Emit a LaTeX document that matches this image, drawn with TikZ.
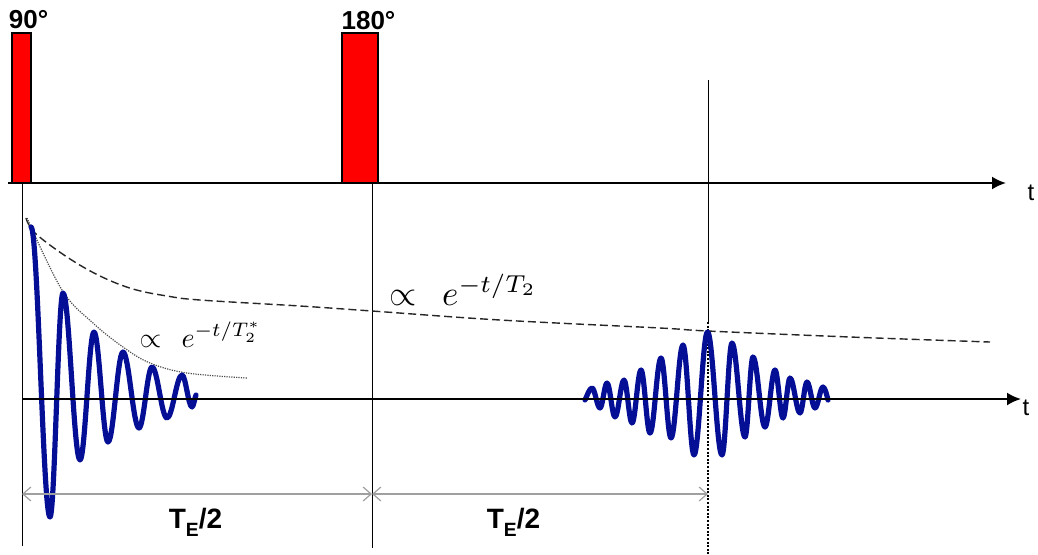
\documentclass[tikz,border=0pt]{standalone}
\usepackage[no-math]{fontspec}
\setmainfont{Liberation Sans}
\usetikzlibrary{arrows.meta}
\definecolor{pulsered}{RGB}{255,0,0}
\definecolor{wavecol}{RGB}{5,15,150}
\definecolor{dimcol}{RGB}{160,160,160}
\newcommand{\tesub}{\raisebox{-4.3pt}{\fontsize{9.6}{10}\selectfont E}}
\tikzset{
  pulse/.style={draw=black, line width=0.6pt, fill=pulsered},
  axisline/.style={black, line width=1.1pt, -{Latex[length=7pt,width=6.5pt]}},
  guide/.style={black, line width=0.5pt},
  dottedguide/.style={black, line width=0.9pt, dash pattern=on 1pt off 0.8pt},
  signal/.style={wavecol, line width=2.6pt, line cap=round, line join=round},
  dimline/.style={dimcol, line width=0.9pt,
    {Straight Barb[length=4pt,width=7pt,line width=0.6pt]}-{Straight Barb[length=4pt,width=7pt,line width=0.6pt]}},
  envT/.style={black!85, line width=0.7pt, dash pattern=on 4pt off 2pt},
  envTstar/.style={black!70, line width=0.6pt, dash pattern=on 0.6pt off 0.6pt},
  pulselabel/.style={font=\bfseries\fontsize{13}{15}\selectfont, inner sep=0pt, anchor=base},
  timelabel/.style={font=\bfseries\fontsize{14}{16}\selectfont, inner sep=0pt, anchor=base},
  tlabel/.style={font=\fontsize{12}{14}\selectfont, inner sep=0pt, anchor=base},
  formula/.style={anchor=base west, inner sep=0pt, font=\normalsize},
}
\begin{document}
\begin{tikzpicture}[x=0.5pt, y=-0.5pt]
\useasboundingbox (0,0) rectangle (1038,554);
% pulses
\draw[pulse] (12,33) rectangle (31,183);
\draw[pulse] (342,33) rectangle (378,183);
\node[pulselabel] (p90) at (28.5,28) {90°};
\node[pulselabel] (p180) at (368.5,29) {180°};
% coordinates
\coordinate (A0) at (8,183);
\coordinate (A1) at (1006,183);
\coordinate (B0) at (22,399);
\coordinate (B1) at (1021,399);
\coordinate (L0) at (22,183);
\coordinate (L1) at (22,546);
\coordinate (M0) at (372,183);
\coordinate (M1) at (372,548);
\coordinate (R0) at (708,80);
\coordinate (Rm) at (708,322);
\coordinate (R1) at (708,554);
\coordinate (D0) at (22,494);
\coordinate (D1) at (372,494);
\coordinate (D2) at (708,494);
% guides
\draw[guide] (L0) -- (L1);
\draw[guide] (M0) -- (M1);
\draw[guide] (R0) -- (Rm);
\draw[dottedguide] (Rm) -- (R1);
% axes
\draw[axisline] (A0) -- (A1);
\node[tlabel] (t1) at (1031,200) {t};
% envelopes
\draw[envT] plot[smooth, tension=0.6] coordinates {(26,218) (35,233) (67,257) (100,276) (133,289) (167,296) (200,300) (300,306) (372,311) (500,320) (660,328) (708,331) (850,337) (990,342)};
\draw[envTstar] plot[smooth, tension=0.6] coordinates {(27,218) (62,290) (93,323) (123,347) (150,363) (187,373) (247,378)};
% FID
\draw[signal] (31,227)
  .. controls +(6.9,0) and +(-6.9,0) .. (50,517)
  .. controls +(4.7,0) and +(-4.7,0) .. (63,293)
  .. controls +(6.2,0) and +(-6.2,0) .. (80,460)
  .. controls +(5.1,0) and +(-5.1,0) .. (94,332)
  .. controls +(5.1,0) and +(-5.1,0) .. (108,442)
  .. controls +(5.5,0) and +(-5.5,0) .. (123,352)
  .. controls +(5.8,0) and +(-5.8,0) .. (139,428)
  .. controls +(4.7,0) and +(-4.7,0) .. (152,367)
  .. controls +(5.5,0) and +(-5.5,0) .. (167,418)
  .. controls +(5.5,0) and +(-5.5,0) .. (182,375)
  .. controls +(3.6,0) and +(-3.6,0) .. (192,407)
  .. controls +(1.5,0) and +(-1,2) .. (196,395);
% echo
\draw[signal] (585,400)
  .. controls +(2,-4) and +(-2.5,0) .. (592,388)
  .. controls +(2.9,0) and +(-2.9,0) .. (600,408)
  .. controls +(2.5,0) and +(-2.5,0) .. (607,383)
  .. controls +(2.9,0) and +(-2.9,0) .. (615,417)
  .. controls +(3.3,0) and +(-3.3,0) .. (624,380)
  .. controls +(2.9,0) and +(-2.9,0) .. (632,423)
  .. controls +(3.3,0) and +(-3.3,0) .. (641,370)
  .. controls +(3.3,0) and +(-3.3,0) .. (650,433)
  .. controls +(4,0) and +(-4,0) .. (661,358)
  .. controls +(3.6,0) and +(-3.6,0) .. (671,438)
  .. controls +(4.4,0) and +(-4.4,0) .. (683,345)
  .. controls +(4,0) and +(-4,0) .. (694,455)
  .. controls +(4.9,0) and +(-4.9,0) .. (707.5,332)
  .. controls +(5.3,0) and +(-5.3,0) .. (722,455)
  .. controls +(3.6,0) and +(-3.6,0) .. (732,343)
  .. controls +(4.7,0) and +(-4.7,0) .. (745,437)
  .. controls +(2.9,0) and +(-2.9,0) .. (753,357)
  .. controls +(4.4,0) and +(-4.4,0) .. (765,427)
  .. controls +(3.6,0) and +(-3.6,0) .. (775,370)
  .. controls +(2.9,0) and +(-2.9,0) .. (783,418)
  .. controls +(2.5,0) and +(-2.5,0) .. (790,378)
  .. controls +(3.6,0) and +(-3.6,0) .. (800,413)
  .. controls +(2.5,0) and +(-2.5,0) .. (807,382)
  .. controls +(2.9,0) and +(-2.9,0) .. (815,408)
  .. controls +(2.9,0) and +(-2.9,0) .. (823,387)
  .. controls +(2,0) and +(-1,-4) .. (828,400);
% lower axis
\draw[axisline] (B0) -- (B1);
\node[tlabel] (t2) at (1026,415) {t};
% formulas
\node[formula, scale=1.75] (fT2) at (389,305) {$\propto\;\,e^{-t/T_2}$};
\node[formula, scale=1.4] (fT2s) at (139,347) {$\propto\;\,e^{-t/T_2^{*}}$};
% time intervals
\draw[dimline] (D0) -- (D1);
\draw[dimline] (D1) -- (D2);
\node[timelabel] (te1) at (195.5,528) {T\tesub/2};
\node[timelabel] (te2) at (513.5,528) {T\tesub/2};
\end{tikzpicture}
\end{document}
